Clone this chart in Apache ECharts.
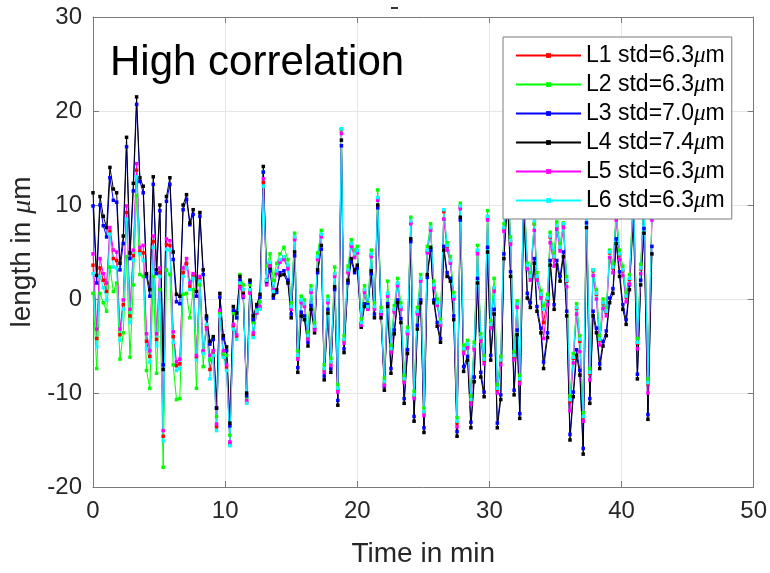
<!DOCTYPE html>
<html>
<head>
    <meta charset="UTF-8">
    <title>High correlation</title>
    <script src="https://cdn.jsdelivr.net/npm/echarts/dist/echarts.min.js"></script>
    <style>
        body { margin: 0; background: #fff; }
    </style>
</head>
<body>
    <div id="main" style="width: 770px;height:573px;"></div>
    <script type="text/javascript">

        // 采样时间 (min)
        var times = [0, 0.28, 0.53, 0.78, 1.03, 1.28, 1.54, 1.79, 2.04, 2.29, 2.54, 2.8, 3.05, 3.3,
            3.55, 3.8, 4.05, 4.3, 4.56, 4.81, 5.06, 5.31, 5.56, 5.82, 6.07, 6.32, 6.57, 6.82,
            7.08, 7.33, 7.58, 7.83, 8.09, 8.34, 8.59, 8.85, 9.1, 9.35, 9.6, 9.86, 10.11, 10.36,
            10.62, 10.87, 11.12, 11.37, 11.63, 11.88, 12.13, 12.39, 12.64, 12.89, 13.14, 13.4, 13.65, 13.9,
            14.15, 14.45, 14.75, 15, 15.26, 15.5, 15.76, 16, 16.27, 16.5, 16.77, 17, 17.28, 17.5,
            17.78, 18, 18.29, 18.53, 18.8, 19, 19.3, 19.55, 19.8, 20, 20.3, 20.55, 20.8, 21.06,
            21.3, 21.55, 21.8, 22.05, 22.3, 22.55, 22.8, 23.05, 23.3, 23.55, 23.8, 24.05, 24.3, 24.55,
            24.8, 25.05, 25.3, 25.55, 25.8, 26.05, 26.3, 26.55, 26.8, 27.05, 27.3, 27.55, 27.8, 28.05,
            28.35, 28.6, 28.85, 29.1, 29.35, 29.6, 29.86, 30.1, 30.36, 30.6, 30.86, 31.1, 31.37, 31.6,
            31.87, 32.1, 32.3, 32.6, 32.87, 33.1, 33.4, 33.6, 33.9, 34.1, 34.4, 34.6, 34.9, 35.1,
            35.35, 35.6, 35.85, 36.1, 36.35, 36.6, 36.85, 37.1, 37.35, 37.6, 37.85, 38.1, 38.35, 38.6,
            38.85, 39.1, 39.35, 39.6, 39.85, 40.1, 40.35, 40.6, 40.9, 41.2, 41.45, 41.7, 42, 42.3];

        // 各条曲线 (μm)
        var L1 = [3.6, -4.2, 3.3, 2.0, 0.8, 7.2, 4.3, 4.1, -3.8, -0.6, 9.2, -1.8, 4.6, 13.7,
            5.1, 4.9, -4.5, -6.1, 6.1, -4.3, 2.8, -14.6, 5.8, 5.7, -4.0, -7.1, -6.9, 2.8,
            3.8, 1.3, 2.5, -6.2, 2.1, -5.6, -2.9, -7.5, -5.8, -13.6, -1.5, -5.9, -7.3, -15.4,
            -2.9, -4.0, 1.5, 0.7, -11.0, 0.8, -3.9, -1.4, -1.0, 12.4, 1.8, 3.7, 0.9, 2.9,
            4.1, 4.4, 3.5, -0.9, 6.5, -6.1, -0.2, -0.6, -4.0, 0.9, -3.0, 4.4, 6.8, -7.5,
            -0.2, -6.8, 2.6, -9.6, 18.0, -4.4, 3.0, 5.8, 4.7, 5.1, -2.6, 0.9, -0.9, 4.7,
            -0.9, 10.7, -1.4, -8.9, 0.5, -5.4, -1.2, 1.6, -0.9, -8.6, -3.5, 8.2, -10.3, -1.4,
            2.1, -12.1, 5.1, 7.5, 1.4, -0.5, -2.6, 9.3, 5.6, 4.0, 0.2, -13.2, 9.8, -5.4,
            -4.9, -10.8, -5.1, 5.1, -4.2, -6.5, 8.7, -2.8, 1.1, -9.6, -6.6, 7.5, 13.4, 6.1,
            -6.1, -0.6, -8.6, 11.9, 3.5, 2.3, 8.0, 2.3, 0.4, -2.5, 0.0, 6.6, 4.4, 7.7,
            5.4, 7.9, 1.9, -10.9, -6.3, -1.0, -4.5, -12.6, 9.7, -7.9, 3.0, 0.5, -4.4, -0.5,
            -1.4, 4.9, 3.3, 8.9, 4.7, 3.0, 0.2, 2.1, 10.9, -4.7, 3.2, 10.4, -9.0, 8.9];

        var L2 = [0.6, -7.4, 0.6, -0.4, -1.3, 3.4, 0.8, 1.7, -6.4, -3.6, 4.5, -6.2, 1.5, 11.0,
            2.6, 2.4, -7.6, -9.5, 2.4, -7.9, 1.0, -17.9, 3.1, 2.6, -7.0, -10.7, -10.6, 0.5,
            0.6, -2.0, 1.0, -9.5, 1.5, -7.2, -2.0, -6.5, -5.5, -12.5, -1.5, -5.8, -6.0, -14.5,
            -1.5, -2.0, 2.6, 1.5, -10.5, 1.5, -2.5, -1.0, -0.3, 13.5, 3.5, 4.8, 2.0, 3.8,
            4.8, 5.5, 4.2, -0.4, 7.0, -5.5, 0.3, -0.1, -3.5, 1.4, -2.5, 4.9, 7.3, -7.0,
            0.3, -6.3, 3.4, -9.1, 18.1, -3.9, 3.5, 6.3, 5.2, 5.6, -2.1, 1.4, -0.4, 5.2,
            -0.4, 11.6, -0.9, -8.4, 1.9, -4.9, -0.7, 2.2, -0.4, -8.1, -3.0, 8.7, -9.8, -0.9,
            2.6, -11.6, 5.6, 8.0, 1.9, 0.0, -2.1, 8.5, 6.0, 4.5, 0.7, -12.6, 10.2, -4.9,
            -4.4, -10.3, -4.6, 5.7, -3.7, -6.0, 9.4, -2.3, 2.2, -9.1, -6.1, 8.0, 13.9, 6.6,
            -5.6, -0.2, -8.1, 12.4, 3.8, 2.8, 8.0, 2.8, 0.9, -0.7, 0.5, 7.1, 4.9, 8.2,
            5.9, 8.1, 2.4, -10.3, -5.8, -0.5, -3.9, -12.1, 10.2, -7.4, 3.1, 1.0, -3.9, 0.0,
            -0.9, 5.2, 3.8, 9.4, 5.2, 3.5, 0.7, 2.6, 11.4, -4.2, 3.7, 10.9, -8.5, 9.0];

        var L3 = [9.9, 1.7, 10.0, 7.8, 6.6, 12.9, 10.5, 10.3, 3.1, 5.9, 16.2, 4.3, 11.5, 20.7,
            12.5, 11.3, 2.4, 0.3, 12.2, 2.7, 9.4, -7.0, 10.4, 12.2, 4.2, -0.3, -0.5, 9.5,
            10.6, 7.9, 9.0, 0.3, 8.8, 2.6, -2.1, -4.8, -4.3, -11.6, 0.2, -4.2, -5.5, -13.5,
            -1.2, -2.0, 2.0, 0.2, -10.3, 1.8, -2.2, -0.8, 0.2, 13.5, 1.8, 3.0, 0.1, 0.7,
            2.8, 3.0, 2.0, -1.6, 4.6, -7.3, -1.4, -1.8, -4.6, -0.7, -3.2, 2.8, 5.3, -8.2,
            -1.1, -7.4, 1.0, -10.8, 16.3, -5.3, 1.7, 4.0, 2.8, 3.3, -2.6, -0.5, -0.6, 2.7,
            -1.6, 9.7, -1.6, -9.3, -0.5, -7.4, -3.3, -0.1, -2.1, -10.6, -5.4, 6.1, -12.5, -2.8,
            -0.1, -13.7, 2.3, 5.2, -0.1, -2.5, -4.2, 5.6, 2.8, 2.2, -1.8, -14.1, 8.4, -7.2,
            -6.1, -13.1, -8.3, 2.2, -7.8, -9.9, 5.5, -6.0, -1.1, -13.2, -10.2, 4.8, 11.0, 2.9,
            -9.7, -3.3, -12.2, 10.0, 0.6, -0.4, 4.3, -0.8, -3.1, -6.7, -3.6, 4.1, -0.6, 4.1,
            2.4, 5.0, -1.3, -14.4, -9.9, -5.4, -7.6, -15.9, 8.1, -10.6, -1.3, -3.1, -6.9, -4.5,
            -3.4, 0.1, 1.1, 6.4, 2.9, -0.6, -2.2, 1.5, 9.2, -8.0, 2.0, 7.5, -12.3, 5.6];

        var L4 = [11.3, 2.5, 10.9, 8.8, 7.6, 14.0, 11.7, 11.3, 3.8, 6.7, 17.2, 4.9, 12.3, 21.5,
            12.9, 12.0, 2.7, 1.0, 13.0, 3.1, 10.0, -7.5, 10.9, 12.9, 5.0, 0.5, 0.3, 10.0,
            11.1, 8.1, 9.5, 0.8, 9.2, 3.1, -1.8, -4.5, -4.0, -11.6, 0.6, -3.9, -5.1, -13.2,
            -0.8, -1.5, 2.4, 0.5, -10.0, 2.0, -1.8, -0.6, 0.5, 14.1, 2.0, 3.3, 0.4, 1.0,
            2.5, 2.6, 1.7, -2.0, 5.0, -7.8, -1.8, -2.2, -5.0, -1.1, -3.6, 3.1, 5.7, -8.6,
            -1.5, -7.8, 1.3, -11.3, 16.9, -5.7, 2.0, 4.3, 3.1, 3.6, -3.0, -0.8, -0.9, 3.0,
            -2.0, 10.0, -2.0, -9.7, -0.8, -7.9, -3.7, -0.4, -2.5, -11.1, -5.8, 6.4, -13.0, -3.2,
            -0.4, -14.2, 2.6, 5.5, -0.4, -2.9, -4.6, 5.2, 2.4, 1.9, -2.2, -14.6, 8.7, -7.7,
            -6.5, -13.7, -8.8, 1.7, -8.3, -10.4, 5.0, -6.5, -1.6, -13.7, -10.7, 4.3, 10.5, 2.4,
            -10.2, -3.8, -12.7, 9.5, 0.1, -0.9, 3.8, -1.3, -3.6, -7.4, -4.1, 3.6, -1.1, 3.6,
            1.9, 4.5, -1.8, -15.0, -10.4, -6.0, -8.1, -16.5, 7.6, -11.1, -1.8, -3.6, -7.4, -5.0,
            -3.9, -0.4, 0.6, 5.9, 2.4, -1.1, -2.7, 1.0, 8.7, -8.5, 1.5, 7.0, -12.8, 4.8];

        var L5 = [4.8, -3.2, 4.3, 2.7, 1.7, 7.6, 5.2, 5.0, -3.2, -0.1, 9.9, -1.1, 5.2, 14.4,
            5.5, 5.7, -3.7, -5.5, 6.7, -3.7, 3.3, -14.0, 6.4, 6.2, -3.5, -6.7, -6.4, 3.3,
            4.3, 1.7, 2.7, -6.0, 2.4, -5.5, -3.2, -6.0, -5.5, -13.3, -1.2, -5.5, -7.0, -15.2,
            -2.7, -3.8, 1.2, 0.3, -10.8, 0.6, -3.6, -1.5, -0.8, 12.8, 1.5, 3.5, 1.0, 2.7,
            3.9, 4.2, 3.2, -1.1, 6.3, -6.4, -0.4, -0.8, -4.3, 0.7, -3.3, 4.2, 6.6, -7.8,
            -0.4, -7.1, 2.4, -9.9, 17.6, -4.7, 2.8, 5.6, 4.4, 4.9, -2.8, 0.7, -1.1, 4.5,
            -1.1, 10.5, -1.6, -9.2, 0.3, -5.7, -1.4, 1.4, -1.1, -8.9, -3.7, 8.0, -10.6, -1.6,
            1.9, -12.4, 4.9, 7.3, 1.2, -0.7, -2.8, 8.5, 5.2, 3.8, 0.0, -13.6, 9.6, -5.8,
            -5.2, -11.2, -5.4, 4.8, -4.5, -6.9, 8.4, -3.1, 0.8, -10.0, -7.0, 7.2, 13.1, 5.8,
            -6.5, -0.9, -9.0, 11.6, 3.2, 2.0, 7.3, 2.0, 0.1, -4.2, -0.6, 6.0, 3.5, 7.4,
            5.1, 7.6, 1.3, -11.9, -6.8, -1.6, -5.6, -13.0, 9.4, -8.6, 2.5, 0.0, -4.9, -1.0,
            -1.8, 4.4, 2.8, 8.4, 4.2, 2.5, -0.3, 1.6, 10.5, -5.3, 2.7, 10.0, -10.0, 8.4];

        var L6 = [2.7, -5.1, 2.4, 1.2, -0.1, 6.9, 3.4, 3.3, -4.4, -1.1, 8.5, -2.5, 4.1, 13.0,
            4.8, 4.1, -5.3, -6.7, 5.5, -5.0, 2.4, -15.1, 5.3, 5.2, -4.6, -7.6, -7.4, 2.4,
            3.3, 1.0, 2.2, -6.5, 1.9, -5.8, -2.7, -8.5, -6.0, -14.0, -1.8, -6.2, -7.6, -15.6,
            -3.2, -4.3, 1.7, 1.0, -11.1, 1.0, -4.1, -1.3, -1.1, 12.0, 2.0, 3.9, 0.8, 3.0,
            4.2, 4.5, 3.6, -0.8, 6.6, -6.0, -0.1, -0.5, -3.9, 1.0, -2.9, 4.5, 6.9, -7.4,
            -0.1, -6.7, 2.7, -9.5, 18.1, -4.3, 3.1, 5.9, 4.8, 5.2, -2.5, 1.0, -0.8, 4.8,
            -0.8, 10.8, -1.3, -8.8, 0.6, -5.3, -1.1, 1.7, -0.8, -8.5, -3.4, 8.3, -10.2, -1.3,
            2.2, -12.0, 5.2, 7.6, 1.5, -0.4, -2.5, 9.5, 5.7, 4.1, 0.3, -13.0, 9.9, -5.3,
            -4.8, -10.7, -5.0, 5.2, -4.1, -6.4, 8.8, -2.7, 1.2, -9.5, -6.5, 7.6, 13.5, 6.2,
            -6.0, -0.5, -8.5, 12.0, 3.6, 2.4, 8.3, 2.4, 0.5, -1.1, 0.1, 6.7, 4.5, 7.8,
            5.5, 8.0, 2.0, -10.7, -6.2, -0.9, -4.3, -12.5, 9.8, -7.8, 3.1, 0.6, -4.3, -0.4,
            -1.3, 5.0, 3.4, 9.0, 4.8, 3.1, 0.3, 2.2, 11.0, -4.6, 3.3, 10.5, -8.9, 9.0];

        var names = ['L1', 'L2', 'L3', 'L4', 'L5', 'L6'];
        var stds = ['6.3', '6.3', '7.0', '7.4', '6.3', '6.3'];
        var colors = ['#ff0000', '#00ff00', '#0000ff', '#000000', '#ff00ff', '#00ffff'];
        var xTicks = [0, 10, 20, 30, 40, 50];
        var yTicks = [-20, -10, 0, 10, 20, 30];

        var font = 'Liberation Sans, Arial, Helvetica, sans-serif';
        var allLines = [L1, L2, L3, L4, L5, L6];

        var myChart = echarts.init(document.getElementById('main'));

        var series = [];
        for (var i = 0; i < allLines.length; i++) {
            var pts = [];
            for (var j = 0; j < times.length; j++) {
                pts.push([times[j], allLines[i][j]]);
            }
            series.push({
                name: names[i],
                type: 'line',
                data: pts,
                symbol: 'rect',
                symbolSize: 3.5,
                showAllSymbol: true,
                color: colors[i],
                lineStyle: { width: 1, color: colors[i] },
                itemStyle: { color: colors[i] },
                xAxisIndex: 0,
                yAxisIndex: 0,
                animation: false
            });
        }

        var boxColor = '#7a7a7a';
        var gridColor = '#e6e6e6';

        myChart.setOption({
            backgroundColor: '#fff',
            animation: false,
            grid: { left: 93, right: 16, top: 17, bottom: 80 },
            legend: {
                orient: 'vertical',
                left: 503,
                top: 37,
                padding: [7, 7, 7, 12],
                itemWidth: 65,
                itemHeight: 6,
                itemGap: 6,
                backgroundColor: '#fff',
                borderColor: '#7a7a7a',
                borderWidth: 1,
                borderRadius: 0,
                data: names,
                formatter: function (name) {
                    var k = names.indexOf(name);
                    return '{t|' + name + ' std=' + stds[k] + '}{mu|μ}{t|m}';
                },
                textStyle: {
                    color: '#000',
                    fontFamily: font,
                    fontSize: 23,
                    lineHeight: 22,
                    rich: {
                        t: { fontFamily: font, fontSize: 23, color: '#000', lineHeight: 22 },
                        mu: { fontFamily: 'Liberation Serif, Times New Roman, serif', fontStyle: 'italic', fontSize: 23, color: '#000', lineHeight: 22 }
                    }
                }
            },
            graphic: [
                {
                    type: 'text',
                    left: 110,
                    top: 42,
                    z: 10,
                    style: {
                        text: 'High correlation',
                        fontFamily: font,
                        fontSize: 42,
                        fill: '#000'
                    }
                },
                {
                    type: 'rect',
                    shape: { x: 391, y: 7, width: 7, height: 2 },
                    style: { fill: '#333' }
                }
            ],
            xAxis: [
                {
                    type: 'value',
                    position: 'bottom',
                    min: xTicks[0],
                    max: xTicks[xTicks.length - 1],
                    interval: 10,
                    name: 'Time in min',
                    nameLocation: 'middle',
                    nameGap: 53,
                    nameTextStyle: { fontFamily: font, fontSize: 28, color: '#262626' },
                    axisLine: { show: true, onZero: false, lineStyle: { color: boxColor, width: 1 } },
                    axisTick: { show: true, inside: true, length: 6, lineStyle: { color: boxColor } },
                    axisLabel: { fontFamily: font, fontSize: 24, color: '#262626', margin: 12 },
                    splitLine: { show: true, lineStyle: { color: gridColor, width: 1 } }
                },
                {
                    type: 'value',
                    position: 'top',
                    min: xTicks[0],
                    max: xTicks[xTicks.length - 1],
                    interval: 10,
                    axisLine: { show: true, onZero: false, lineStyle: { color: boxColor, width: 1 } },
                    axisTick: { show: true, inside: true, length: 6, lineStyle: { color: boxColor } },
                    axisLabel: { show: false },
                    splitLine: { show: false }
                }
            ],
            yAxis: [
                {
                    type: 'value',
                    position: 'left',
                    min: yTicks[0],
                    max: yTicks[yTicks.length - 1],
                    interval: 10,
                    name: '{t|length in }{mu|μ}{t|m}',
                    nameLocation: 'middle',
                    nameRotate: 90,
                    nameGap: 52,
                    nameTextStyle: {
                        fontFamily: font,
                        fontSize: 28,
                        color: '#262626',
                        rich: {
                            t: { fontFamily: font, fontSize: 28, color: '#262626' },
                            mu: { fontFamily: 'Liberation Serif, Times New Roman, serif', fontStyle: 'italic', fontSize: 28, color: '#262626' }
                        }
                    },
                    axisLine: { show: true, onZero: false, lineStyle: { color: boxColor, width: 1 } },
                    axisTick: { show: true, inside: true, length: 6, lineStyle: { color: boxColor } },
                    axisLabel: { fontFamily: font, fontSize: 24, color: '#262626', margin: 11 },
                    splitLine: { show: true, lineStyle: { color: gridColor, width: 1 } }
                },
                {
                    type: 'value',
                    position: 'right',
                    min: yTicks[0],
                    max: yTicks[yTicks.length - 1],
                    interval: 10,
                    axisLine: { show: true, onZero: false, lineStyle: { color: boxColor, width: 1 } },
                    axisTick: { show: true, inside: true, length: 6, lineStyle: { color: boxColor } },
                    axisLabel: { show: false },
                    splitLine: { show: false }
                }
            ],
            series: series
        });
    </script>
</body>
</html>
